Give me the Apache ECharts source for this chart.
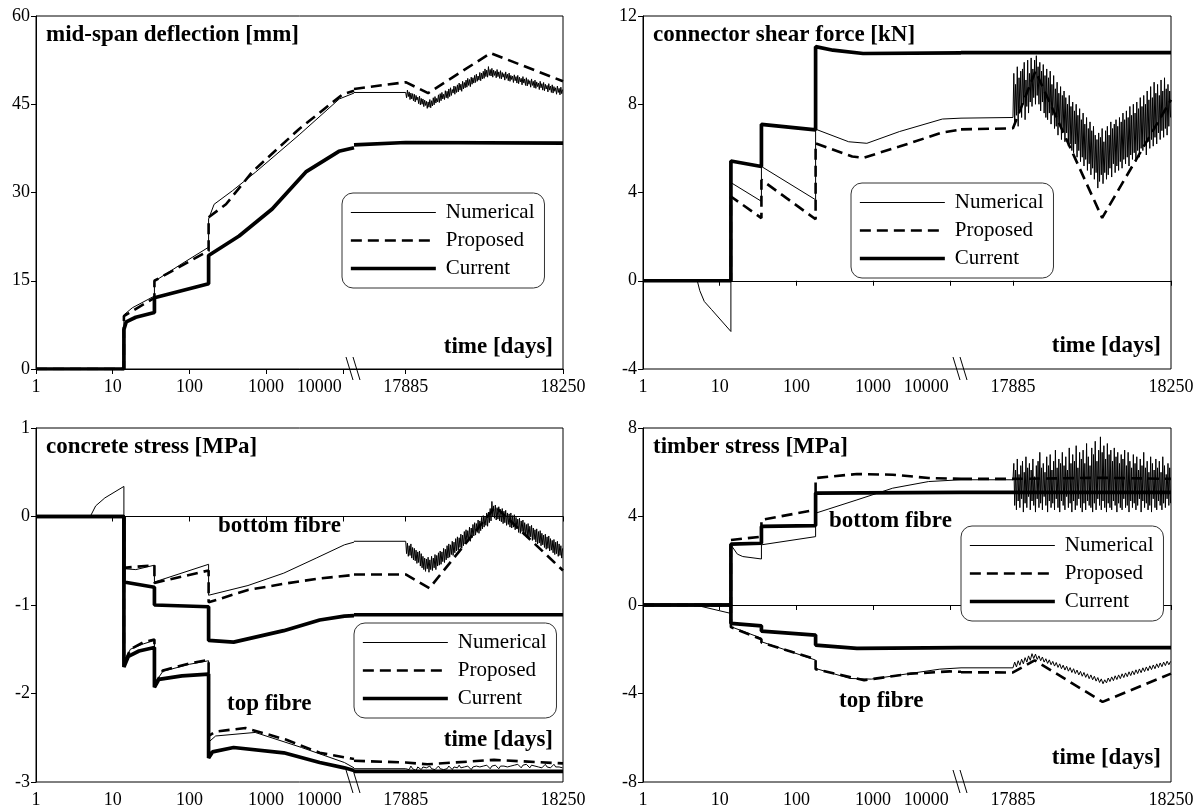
<!DOCTYPE html>
<html><head><meta charset="utf-8">
<script src="https://cdn.jsdelivr.net/npm/echarts@6/dist/echarts.min.js"></script>
<style>html,body{margin:0;padding:0;background:#fff;}#c{width:1204px;height:811px;}</style>
</head><body><div id="c"></div>
<script>
// ---------- tick labels / text ----------
const logTicks = [1, 10, 100, 1000, 10000];
const linTicks = [17885, 18250];
const panelTitles = ['mid-span deflection [mm]', 'connector shear force [kN]', 'concrete stress [MPa]', 'timber stress [MPa]'];
const xTitle = 'time [days]';
const seriesNames = ['Numerical', 'Proposed', 'Current'];
const yMin = [0, -4, -3, -8];
const yMax = [60, 12, 1, 8];
const yInterval = [15, 4, 1, 4];
// last-year fluctuation samples: first day, sampling steps (days)
const noiseStart = 17885, fineStep = 2, coarseStep = 4;

// ---------- panel 1: mid-span deflection ----------
const defNumLog = [[1,0],[14,0],[14,9.2],[18,10.4],[35,12.4],[35,14.9],[80,17.9],[178,20.7],[178,25.5],[210,28.0],[364,30.3],[735,33.5],[2700,39.8],[9000,45.9],[14000,46.9]];
const defNumLin = [[17765,47.0]];
const defNumNoise = [47.0,46.1,47.4,46.3,47.1,45.8,46.9,45.9,46.8,45.6, 46.7,45.4,46.5,45.7,46.2,45.1,46.4,44.9,46.0,45.0, 45.9,44.6,45.7,44.8,45.5,44.3,45.4,44.5,45.8,44.4, 45.6,44.7,46.1,44.9,46.3,45.2,46.0,45.4,46.6,45.3, 46.8,45.6,47.0,45.9,46.7,45.8,47.3,46.1,47.2,46.0, 47.6,46.3,47.8,46.5,47.5,46.9,48.1,46.7,48.0,47.0, 48.3,47.1,48.6,47.4,48.4,47.2,48.9,47.6,48.7,47.8, 49.1,47.9,49.4,48.2,49.2,48.0,49.6,48.4,49.5,48.6, 49.9,48.7,50.1,48.9,49.8,49.1,50.4,49.0,50.3,49.3, 50.6,49.4,51.0,49.7,50.8,49.6,51.4,49.9,50.9,49.8, 51.1,49.6,50.8,49.9,50.6,49.5,50.9,49.7,50.5,49.4, 50.7,49.3,50.4,49.6,50.2,49.1,50.5,49.4,50.1,49.0, 50.3,48.9,49.9,49.2,49.8,48.7,50.0,49.0,49.7,48.6, 49.9,48.5,49.6,48.8,49.4,48.3,49.7,48.6,49.3,48.2, 49.5,48.1,49.2,48.4,49.0,47.9,49.3,48.2,48.9,47.8, 49.1,47.7,48.8,48.0,48.6,47.5,48.9,47.8,48.5,47.4, 48.7,47.3,48.4,47.6,48.2,47.1,48.5,47.4,48.1,47.0, 48.3,46.9,48.0,47.2,47.8,46.7,48.1,47.0,47.7,46.6, 47.9,46.8,47.5];
const defProLog = [[1,0],[14,0],[14,9.0],[35,12.1],[35,15.0],[178,20.1],[178,25.8],[300,28.0],[660,33.5],[2700,40.8],[10000,46.7],[14000,47.3]];
const defProLin = [[17765,47.6],[17885,48.75],[17937,46.9],[18082,53.7],[18250,48.9]];
const defCurLog = [[1,0],[14,0],[14,6.7],[15,8.0],[20,8.8],[35,9.6],[35,12.1],[178,14.5],[178,19.3],[445,22.6],[1200,27.2],[3300,33.5],[8900,37.0],[14000,37.6]];
const defCurLin = [[17765,38.1],[17885,38.5],[18250,38.4]];

// ---------- panel 2: connector shear force ----------
const shrNumLog = [[1,0],[5.1,0],[5.5,-0.45],[6.3,-0.94],[7.8,-1.3],[14,-2.3],[14,4.45],[35,3.6],[35,5.18],[178,3.67],[178,6.87],[480,6.3],[830,6.23],[2200,6.76],[8000,7.33],[14000,7.37]];
const shrNumLin = [[17765,7.37]];
const shrNumNoise = [7.4,9.4,7.1,8.9,7.5,9.7,7.0,9.2,7.8,9.5, 7.4,9.6,8.0,9.9,7.3,9.1,7.9,10.0,7.6,9.4, 8.1,10.1,7.9,9.6,8.3,10.0,8.0,10.2,8.4,9.7, 8.0,9.9,7.7,9.5,8.1,9.8,7.6,9.3,7.4,9.6, 7.3,9.2,7.6,9.5,7.1,8.9,7.5,9.3,6.9,8.7, 7.0,9.0,6.6,8.5,7.1,8.8,6.4,8.4,6.8,8.6, 6.3,8.3,6.7,8.0,6.1,8.4,6.2,7.9,5.9,8.1, 5.8,7.7,6.2,8.0,5.6,7.5,5.9,7.8,5.4,7.3, 5.6,7.6,5.2,7.1,5.5,7.4,5.0,6.9,5.3,7.2, 4.8,6.8,5.1,7.0,4.6,6.6,4.9,6.4,4.2,6.7, 4.5,6.5,4.8,6.9,4.4,6.3,4.9,6.8,4.6,7.0, 4.8,6.6,5.1,7.2,4.7,6.9,5.3,7.1,4.9,7.3, 5.2,7.0,5.0,7.4,5.4,7.2,5.1,7.6,5.5,7.3, 5.3,7.7,5.6,7.4,5.2,7.9,5.7,7.5,5.5,8.0, 5.8,7.6,5.4,8.1,5.9,7.8,5.6,8.3,6.0,7.9, 5.9,8.4,6.2,8.0,5.7,8.6,6.3,8.2,6.0,8.8, 6.4,8.3,6.1,9.0,6.5,8.5,6.2,8.9,6.7,8.4, 6.4,9.1,6.8,8.6,6.5,9.2,6.9,8.7,6.6,8.9, 7.0,8.6,7.4];
const shrProLog = [[1,0],[14,0],[14,3.82],[35,2.84],[35,4.57],[178,2.79],[178,6.23],[535,5.63],[740,5.57],[2200,6.08],[8000,6.72],[14000,6.85]];
const shrProLin = [[17765,6.86],[17885,6.91],[17937,9.5],[18091,2.85],[18250,8.2]];
const shrCurLog = [[1,0],[14,0],[14,5.43],[35,5.18],[35,7.09],[178,6.84],[178,10.61],[300,10.45],[740,10.3],[14000,10.33]];
const shrCurLin = [[17765,10.34],[18250,10.34]];

// ---------- panel 3: concrete stress ----------
const conNumBotLog = [[1,0],[5.1,0],[6,0.12],[7.9,0.21],[14,0.34],[14,-0.59],[20,-0.6],[35,-0.55],[35,-0.74],[178,-0.54],[178,-0.89],[580,-0.78],[1700,-0.64],[4500,-0.47],[10500,-0.32],[14000,-0.29]];
const conNumBotLin = [[17765,-0.28]];
const conNumBotNoise = [-0.28,-0.42,-0.30,-0.45,-0.33,-0.44,-0.31,-0.47,-0.35,-0.49, -0.36,-0.50,-0.38,-0.53,-0.40,-0.52,-0.39,-0.56,-0.42,-0.58, -0.45,-0.60,-0.47,-0.62,-0.48,-0.59,-0.46,-0.63,-0.49,-0.60, -0.45,-0.61,-0.47,-0.58,-0.43,-0.60,-0.44,-0.56,-0.41,-0.55, -0.39,-0.54,-0.40,-0.51,-0.36,-0.52,-0.37,-0.49,-0.33,-0.47, -0.31,-0.46,-0.32,-0.43,-0.28,-0.44,-0.29,-0.41,-0.25,-0.39, -0.23,-0.38,-0.24,-0.35,-0.20,-0.36,-0.21,-0.33,-0.17,-0.31, -0.15,-0.29,-0.16,-0.27,-0.12,-0.28,-0.13,-0.24,-0.09,-0.22, -0.07,-0.21,-0.08,-0.18,-0.04,-0.19,-0.05,-0.16,-0.01,-0.14, 0.01,-0.12,0.00,-0.10,0.04,-0.11,0.05,-0.07,0.09,-0.05, 0.17,0.00,0.12,-0.02,0.13,-0.04,0.10,-0.03,0.11,-0.05, 0.08,-0.06,0.09,-0.08,0.06,-0.07,0.07,-0.10,0.04,-0.09, 0.03,-0.12,0.04,-0.13,0.01,-0.12,0.02,-0.15,-0.01,-0.14, -0.03,-0.18,-0.02,-0.19,-0.05,-0.17,-0.04,-0.21,-0.07,-0.20, -0.09,-0.24,-0.08,-0.25,-0.11,-0.23,-0.10,-0.27,-0.13,-0.26, -0.15,-0.29,-0.14,-0.31,-0.17,-0.30,-0.16,-0.33,-0.19,-0.32, -0.21,-0.35,-0.20,-0.37,-0.23,-0.36,-0.22,-0.39,-0.25,-0.38, -0.27,-0.41,-0.26,-0.43,-0.29,-0.42,-0.28,-0.45,-0.31,-0.44, -0.33,-0.47,-0.36];
const conProBotLog = [[1,0],[14,0],[14,-0.58],[35,-0.55],[35,-0.75],[178,-0.61],[178,-0.97],[580,-0.83],[1700,-0.76],[5000,-0.70],[14000,-0.66]];
const conProBotLin = [[17765,-0.655],[17885,-0.655],[17940,-0.81],[18093,0.11],[18250,-0.61]];
const conCurBotLog = [[1,0],[14,0],[14,-0.74],[35,-0.80],[35,-1.0],[178,-1.02],[178,-1.40],[377,-1.42],[1700,-1.29],[5000,-1.17],[10500,-1.125],[14000,-1.12]];
const conCurBotLin = [[17765,-1.11],[18250,-1.11]];
const conNumTopLog = [[1,0],[14,0],[14,-1.65],[17,-1.50],[25,-1.44],[35,-1.40],[35,-1.89],[45,-1.75],[100,-1.67],[178,-1.63],[178,-2.55],[220,-2.48],[720,-2.44],[2900,-2.61],[10500,-2.78],[14000,-2.84]];
const conNumTopLin = [[17765,-2.85]];
const conNumTopNoise = [-2.85,-2.83,-2.86,-2.82,-2.85,-2.84,-2.87,-2.83,-2.85,-2.86,-2.83,-2.85,-2.84,-2.86,-2.82,-2.85,-2.83,-2.86,-2.84,-2.82,-2.85,-2.83,-2.86,-2.84,-2.85,-2.82,-2.84,-2.86,-2.83,-2.85,-2.84,-2.81,-2.84,-2.86,-2.83,-2.85,-2.82,-2.84,-2.86,-2.83,-2.85,-2.82,-2.84,-2.83,-2.85,-2.82,-2.84,-2.81,-2.83,-2.85,-2.82,-2.84,-2.81,-2.83,-2.85,-2.82,-2.84,-2.82,-2.80,-2.83,-2.85,-2.82,-2.84,-2.81,-2.83,-2.80,-2.82,-2.84,-2.81,-2.83,-2.80,-2.82,-2.84,-2.81,-2.83,-2.82,-2.80,-2.83,-2.81,-2.84,-2.82,-2.80,-2.83,-2.81,-2.84,-2.82,-2.80,-2.83,-2.81,-2.83,-2.82,-2.84];
const conProTopLog = [[1,0],[14,0],[14,-1.67],[17,-1.50],[25,-1.42],[35,-1.39],[35,-1.91],[45,-1.74],[100,-1.66],[178,-1.62],[178,-2.48],[220,-2.43],[540,-2.39],[1800,-2.52],[5000,-2.67],[14000,-2.74]];
const conProTopLin = [[17765,-2.76],[17885,-2.78],[17935,-2.80],[18090,-2.75],[18250,-2.79]];
const conCurTopLog = [[1,0],[14,0],[14,-1.70],[16,-1.58],[22,-1.52],[35,-1.48],[35,-1.93],[40,-1.84],[80,-1.80],[178,-1.78],[178,-2.73],[200,-2.66],[377,-2.61],[1700,-2.67],[5000,-2.78],[10500,-2.84],[14000,-2.87]];
const conCurTopLin = [[17765,-2.88],[18250,-2.88]];

// ---------- panel 4: timber stress ----------
const timNumBotLog = [[1,0],[4.8,0],[14,-0.38],[14,2.72],[17,2.30],[20,2.19],[35,2.08],[35,2.72],[178,3.09],[178,4.15],[615,4.75],[1800,5.28],[5300,5.58],[14000,5.66]];
const timNumBotLin = [[17765,5.66]];
const timNumBotNoise = [5.66,6.4,4.5,6.1,4.3,6.6,4.7,5.9,4.4,6.3, 4.8,6.5,4.2,6.0,4.6,6.7,4.4,6.2,4.9,6.4, 4.3,6.1,4.7,6.6,4.5,5.8,4.2,6.3,4.8,6.5, 4.4,6.9,4.6,6.2,4.3,6.4,4.9,6.0,4.5,6.7, 4.2,6.3,4.7,6.8,4.4,6.1,4.6,6.5,4.3,7.0, 4.8,6.2,4.4,6.6,4.2,6.4,4.7,6.9,4.5,6.3, 4.3,6.7,4.9,6.1,4.4,7.1,4.6,6.4,4.2,6.8, 4.7,6.5,4.3,7.2,4.5,6.2,4.8,6.9,4.4,6.6, 4.2,7.0,4.6,6.4,4.3,7.3,4.7,6.7,4.5,6.3, 4.4,7.1,4.2,6.8,4.6,7.4,4.3,6.5,4.8,7.0, 4.5,7.6,4.3,6.9,4.7,7.2,4.4,6.6,4.2,7.3, 4.6,6.8,4.4,7.0,4.3,6.5,4.7,7.1,4.5,6.7, 4.2,6.9,4.6,6.4,4.4,6.8,4.3,6.6,4.8,7.0, 4.4,6.3,4.5,6.9,4.2,6.5,4.7,6.2,4.4,6.8, 4.6,6.4,4.3,6.7,4.5,6.1,4.8,6.6,4.2,6.3, 4.7,6.9,4.4,6.2,4.6,6.5,4.3,6.0,4.5,6.7, 4.2,6.4,4.8,6.1,4.4,6.6,4.3,6.2,4.7,6.5, 4.5,6.0,4.3,6.7,4.6,6.3,4.4,5.9,4.8,6.4, 4.5,6.2,4.6];
const timProBotLog = [[1,0],[14,0],[14,2.94],[35,3.09],[35,3.85],[178,4.3],[178,5.74],[615,5.92],[1800,5.89],[5300,5.74],[14000,5.7]];
const timProBotLin = [[17765,5.7],[17885,5.7],[18090,5.75],[18250,5.7]];
const timCurBotLog = [[1,0],[14,0],[14,2.75],[35,2.79],[35,3.55],[178,3.59],[178,5.06],[14000,5.09]];
const timCurBotLin = [[17765,5.09],[18250,5.09]];
const timNumTopLog = [[1,0],[14,0],[14,-0.98],[35,-1.5],[35,-1.66],[178,-2.49],[178,-2.87],[500,-3.32],[950,-3.35],[3100,-3.09],[7400,-2.9],[14000,-2.84]];
const timNumTopLin = [[17765,-2.84]];
const timNumTopNoise = [-2.84,-2.58,-2.80,-2.52,-2.72,-2.45,-2.66,-2.38,-2.58,-2.30,-2.50,-2.20,-2.42,-2.22,-2.46,-2.30,-2.52,-2.35,-2.58,-2.43,-2.64,-2.48,-2.70,-2.55,-2.76,-2.60,-2.82,-2.66,-2.88,-2.72,-2.94,-2.77,-2.99,-2.83,-3.05,-2.88,-3.10,-2.94,-3.16,-3.00,-3.22,-3.05,-3.27,-3.11,-3.33,-3.16,-3.38,-3.22,-3.44,-3.28,-3.50,-3.34,-3.56,-3.38,-3.52,-3.30,-3.46,-3.25,-3.42,-3.20,-3.37,-3.16,-3.33,-3.11,-3.28,-3.07,-3.24,-3.02,-3.19,-2.98,-3.15,-2.93,-3.10,-2.89,-3.06,-2.84,-3.01,-2.80,-2.97,-2.75,-2.92,-2.71,-2.88,-2.66,-2.83,-2.62,-2.79,-2.58,-2.74,-2.54,-2.70,-2.55];
const timProTopLog = [[1,0],[14,0],[14,-1.0],[35,-1.55],[35,-1.7],[178,-2.45],[178,-2.9],[765,-3.4],[3100,-3.1],[10000,-3.0],[14000,-3.02]];
const timProTopLin = [[17765,-3.04],[17885,-3.05],[17935,-2.5],[18092,-4.38],[18250,-3.1]];
const timCurTopLog = [[1,0],[14,0],[14,-0.83],[35,-0.94],[35,-1.18],[178,-1.36],[178,-1.81],[615,-1.96],[14000,-1.93]];
const timCurTopLin = [[17765,-1.93],[18250,-1.93]];

// ---------- layout ----------
const FONT = "'Liberation Serif', 'Times New Roman', Times, serif";
const PL = [36, 643, 36, 643], PT = [16, 16, 428, 428], PW = [527, 528, 527, 528], PH = [353, 353, 354, 354];
const LOGW = 318;          // width of the logarithmic part of each time axis
const LOG_MAX = 14000, LIN_MIN = 17765, LIN_MAX = 18250;
const legendPos = [[342, 193], [851, 183], [354, 623], [961, 526]];
const xTitleLift = [21, 22, 41, 23];
const fibreLabels = [null, null, [[280, 528], [273, 706]], [[891, 523], [885, 703]]];

const styles = {
  Numerical: { color: '#000', width: 1, type: 'solid' },
  Proposed: { color: '#000', width: 2.6, type: [11, 6] },
  Current: { color: '#000', width: 3.7, type: 'solid' }
};

const grid = [], xAxis = [], yAxis = [], series = [], legend = [], graphic = [], title = [];
const lblStyle = { fontFamily: FONT, fontSize: 18, color: '#000' };
const boldText = { fontFamily: FONT, fontSize: 23, fontWeight: 'bold', color: '#000' };

for (let p = 0; p < 4; p++) {
  grid.push({ left: PL[p], top: PT[p], width: PW[p], height: PH[p], show: true, borderColor: '#000', borderWidth: 1, backgroundColor: 'transparent', outerBoundsMode: 'none' });
}
for (let p = 0; p < 4; p++) {
  grid.push({ left: PL[p], top: PT[p], width: LOGW, height: PH[p], outerBoundsMode: 'none' });
  grid.push({ left: PL[p] + LOGW, top: PT[p], width: PW[p] - LOGW, height: PH[p], outerBoundsMode: 'none' });
  const gl = 4 + 2 * p, gr = 5 + 2 * p;
  xAxis.push({
    type: 'log', logBase: 10, gridIndex: gl, min: 1, max: LOG_MAX,
    axisLine: { show: true, lineStyle: { color: '#000', width: 1 } },
    axisTick: { show: true, length: 5, lineStyle: { color: '#000', width: 1 } },
    axisLabel: Object.assign({}, lblStyle, {
      margin: 9, showMaxLabel: false, showMinLabel: true,
      formatter: v => { const n = Math.round(v); if (logTicks.indexOf(n) < 0) return ''; return n === 10000 ? '{r|10000}' : String(n); },
      rich: { r: { fontFamily: FONT, fontSize: 18, color: '#000', padding: [0, 47, 0, 0] } }
    }),
    splitLine: { show: false }, minorTick: { show: false }
  });
  xAxis.push({
    type: 'value', gridIndex: gr, min: LIN_MIN, max: LIN_MAX,
    axisLine: { show: true, lineStyle: { color: '#000', width: 1 } },
    axisTick: { show: true, length: 5, customValues: linTicks, lineStyle: { color: '#000', width: 1 } },
    axisLabel: Object.assign({}, lblStyle, { margin: 9, customValues: linTicks, formatter: v => String(Math.round(v)) }),
    splitLine: { show: false }
  });
  yAxis.push({
    type: 'value', gridIndex: gl, min: yMin[p], max: yMax[p], interval: yInterval[p],
    axisLine: { show: true, lineStyle: { color: '#000', width: 1 } },
    axisTick: { show: true, length: 5, lineStyle: { color: '#000', width: 1 } },
    axisLabel: Object.assign({}, lblStyle, { margin: 6 }),
    splitLine: { show: false }
  });
  yAxis.push({ type: 'value', gridIndex: gr, min: yMin[p], max: yMax[p], interval: yInterval[p], show: false, splitLine: { show: false } });

  legend.push({
    left: legendPos[p][0], top: legendPos[p][1], orient: 'vertical', align: 'left',
    data: seriesNames, selectedMode: false,
    itemWidth: 85, itemHeight: 14, itemGap: 7,
    padding: [9, 10, 9, 7],
    backgroundColor: '#fff', borderColor: '#333', borderWidth: 1, borderRadius: 11,
    itemStyle: { color: 'rgba(0,0,0,0)', borderColor: 'rgba(0,0,0,0)', borderWidth: 0, opacity: 0 },
    lineStyle: { width: 'inherit', type: 'inherit', color: 'inherit', opacity: 1 },
    textStyle: { fontFamily: FONT, fontSize: 21, color: '#000', padding: [0, 0, 0, 5] }
  });

  // panel title, axis title and fibre labels
  title.push({ text: panelTitles[p], left: PL[p] + 10, top: PT[p] + 8, padding: 0, textStyle: boldText });
  title.push({ text: xTitle, right: 1204 - (PL[p] + PW[p] - 10), top: PT[p] + PH[p] - xTitleLift[p] - 12, padding: 0, textStyle: boldText });
  if (fibreLabels[p]) {
    title.push({ text: 'bottom fibre', left: fibreLabels[p][0][0] - 62, top: fibreLabels[p][0][1] - 13, padding: 0, textStyle: boldText });
    title.push({ text: 'top fibre', left: fibreLabels[p][1][0] - 46, top: fibreLabels[p][1][1] - 13, padding: 0, textStyle: boldText });
  }
  // axis break marks
  const bx = PL[p] + LOGW, by = PT[p] + PH[p];
  graphic.push({ type: 'line', z: 50, shape: { x1: bx - 8, y1: by - 12, x2: bx - 1, y2: by + 11 }, style: { stroke: '#000', lineWidth: 1 } });
  graphic.push({ type: 'line', z: 50, shape: { x1: bx - 1, y1: by - 12, x2: bx + 6, y2: by + 11 }, style: { stroke: '#000', lineWidth: 1 } });
}

function addCurve(p, name, logData, linData, noise, step) {
  const lin = noise ? linData.concat(noise.map((v, i) => [noiseStart + step * i, v])) : linData;
  const s = styles[name];
  const common = { name, type: 'line', symbol: 'none', showSymbol: false, animation: false, silent: true, clip: true,
    lineStyle: { color: s.color, width: s.width, type: s.type }, itemStyle: { color: s.color },
    z: name === 'Current' ? 4 : (name === 'Numerical' ? 3 : 2) };
  series.push(Object.assign({}, common, { xAxisIndex: 2 * p, yAxisIndex: 2 * p, data: logData }));
  series.push(Object.assign({}, common, { xAxisIndex: 2 * p + 1, yAxisIndex: 2 * p + 1, data: lin }));
}

addCurve(0, 'Proposed', defProLog, defProLin);
addCurve(0, 'Numerical', defNumLog, defNumLin, defNumNoise, fineStep);
addCurve(0, 'Current', defCurLog, defCurLin);

addCurve(1, 'Proposed', shrProLog, shrProLin);
addCurve(1, 'Numerical', shrNumLog, shrNumLin, shrNumNoise, fineStep);
addCurve(1, 'Current', shrCurLog, shrCurLin);

addCurve(2, 'Proposed', conProBotLog, conProBotLin);
addCurve(2, 'Proposed', conProTopLog, conProTopLin);
addCurve(2, 'Numerical', conNumBotLog, conNumBotLin, conNumBotNoise, fineStep);
addCurve(2, 'Numerical', conNumTopLog, conNumTopLin, conNumTopNoise, coarseStep);
addCurve(2, 'Current', conCurBotLog, conCurBotLin);
addCurve(2, 'Current', conCurTopLog, conCurTopLin);

addCurve(3, 'Proposed', timProBotLog, timProBotLin);
addCurve(3, 'Proposed', timProTopLog, timProTopLin);
addCurve(3, 'Numerical', timNumBotLog, timNumBotLin, timNumBotNoise, fineStep);
addCurve(3, 'Numerical', timNumTopLog, timNumTopLin, timNumTopNoise, coarseStep);
addCurve(3, 'Current', timCurBotLog, timCurBotLin);
addCurve(3, 'Current', timCurTopLog, timCurTopLin);

const chart = echarts.init(document.getElementById('c'), null, { renderer: 'canvas' });
chart.setOption({
  animation: false,
  backgroundColor: '#fff',
  textStyle: { fontFamily: FONT },
  title, grid, xAxis, yAxis, legend, series, graphic
});
</script></body></html>
